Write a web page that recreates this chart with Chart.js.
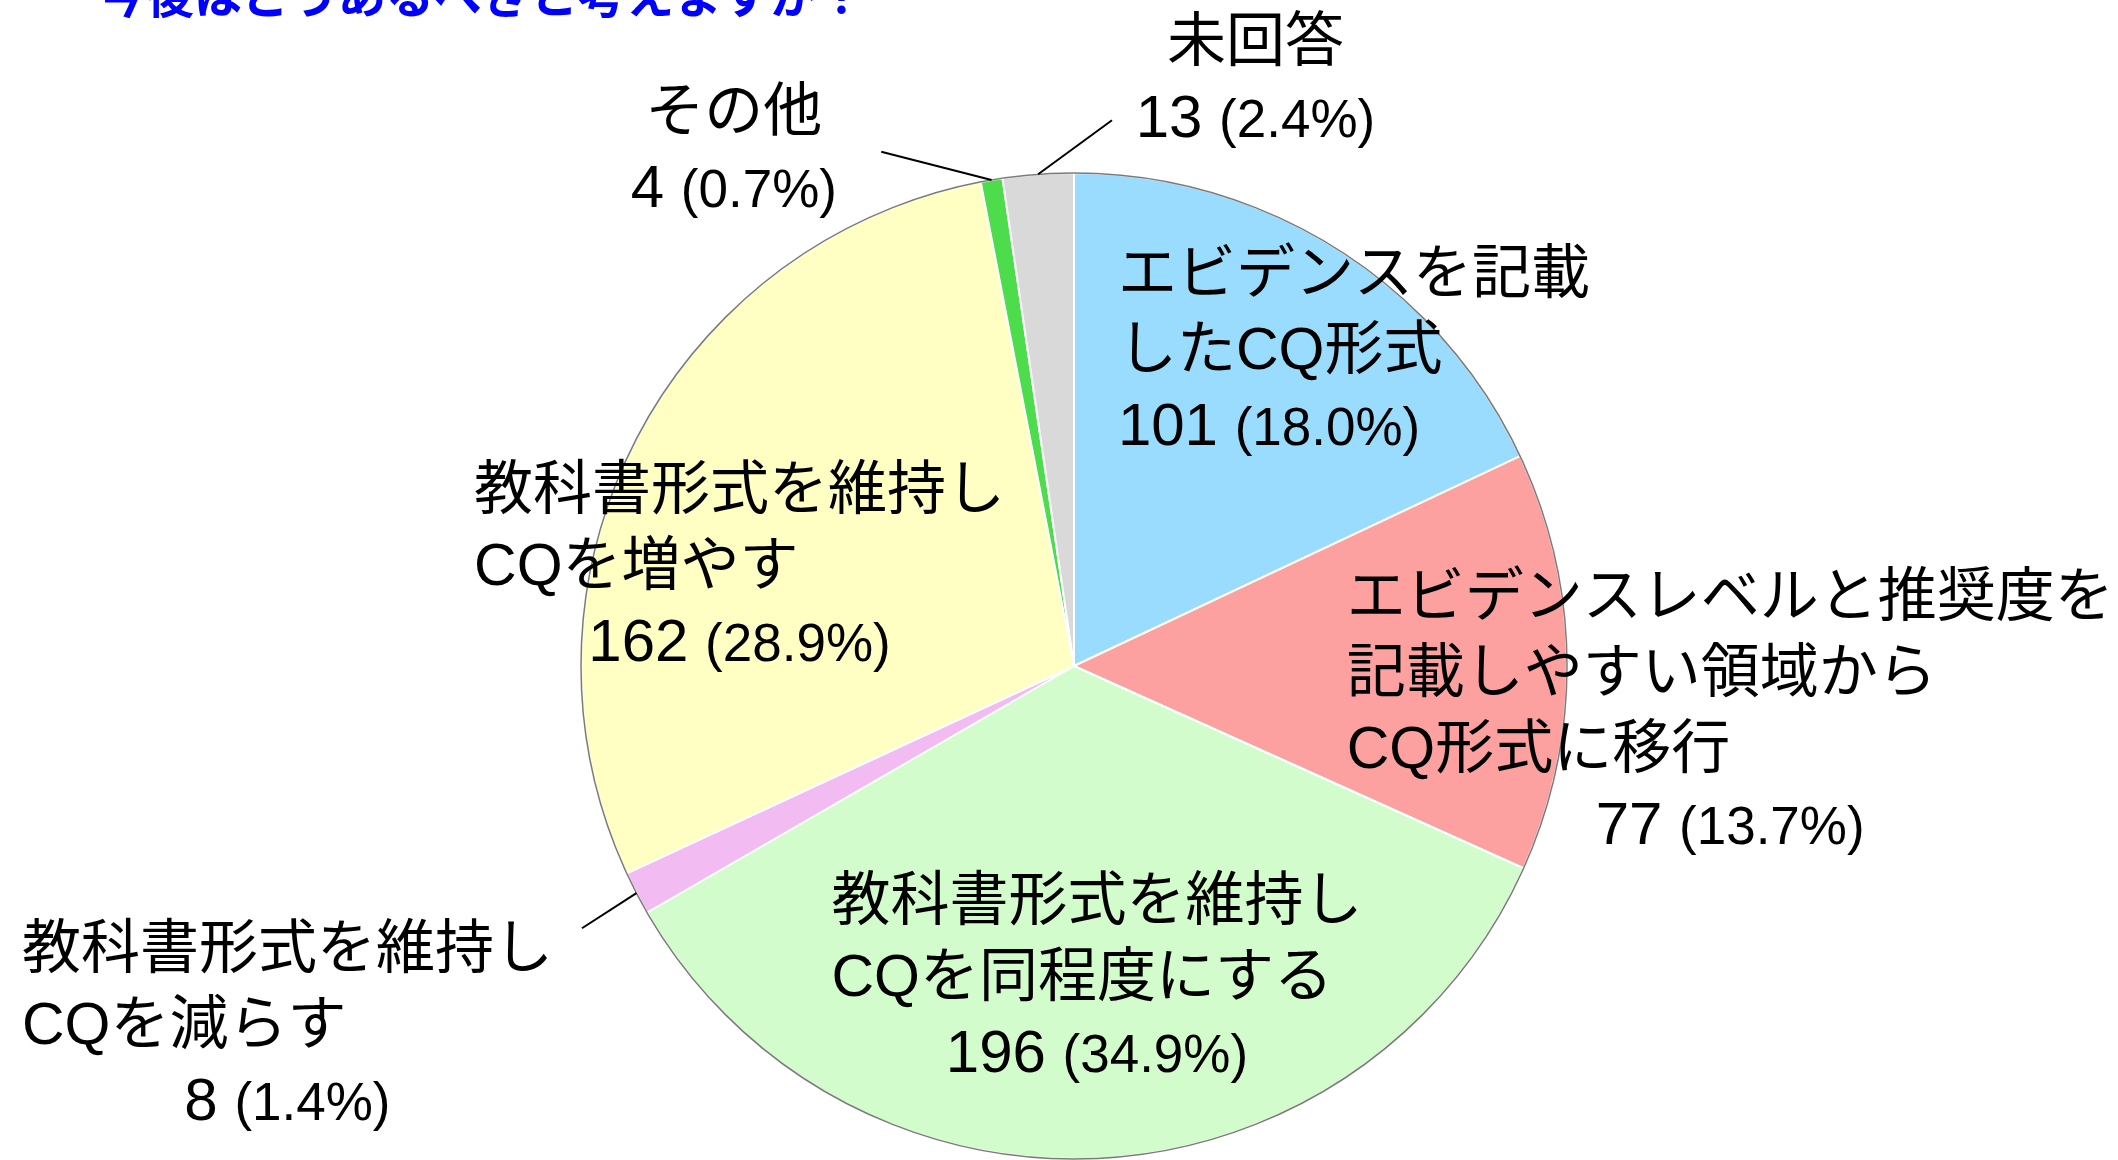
<!DOCTYPE html>
<html>
<head>
    <meta charset="UTF-8">
    <title>CQ形式 アンケート</title>
    <script src="https://cdn.jsdelivr.net/npm/chart.js"></script>
    <style>
        body { margin: 0; background: #fff; }
    </style>
</head>
<body>
    <canvas id="myChart" width="2118" height="1160"></canvas>

    <script>
        // chart data
        const questionText = '今後はどうあるべきと考えますか？';
        const categories = [
            'エビデンスを記載したCQ形式',
            'エビデンスレベルと推奨度を記載しやすい領域からCQ形式に移行',
            '教科書形式を維持しCQを同程度にする',
            '教科書形式を維持しCQを減らす',
            '教科書形式を維持しCQを増やす',
            'その他',
            '未回答'
        ];
        const labelLines = [
            ['エビデンスを記載', 'したCQ形式'],
            ['エビデンスレベルと推奨度を', '記載しやすい領域から', 'CQ形式に移行'],
            ['教科書形式を維持し', 'CQを同程度にする'],
            ['教科書形式を維持し', 'CQを減らす'],
            ['教科書形式を維持し', 'CQを増やす'],
            ['その他'],
            ['未回答']
        ];
        const counts = [101, 77, 196, 8, 162, 4, 13];
        const percentLabels = ['18.0%', '13.7%', '34.9%', '1.4%', '28.9%', '0.7%', '2.4%'];
        const sliceColors = ['#99dcfd', '#fda0a0', '#d3fccc', '#f2bcf2', '#ffffc4', '#4cdc4c', '#d9d9d9'];

        // label placement in units of the pie radius, relative to the centre
        // align: left = all lines left, mixed = name left / number centred, center = all centred
        const labelPlace = [
            { fx: 0.089, fy: -0.802, align: 'left' },
            { fx: 0.553, fy: -0.146, align: 'mixed' },
            { fx: -0.492, fy: 0.470, align: 'mixed' },
            { fx: -2.134, fy: 0.567, align: 'mixed' },
            { fx: -1.217, fy: -0.364, align: 'mixed' },
            { fx: -0.690, fy: -1.130, align: 'center' },
            { fx: 0.368, fy: -1.271, align: 'center' }
        ];
        // leader lines: slice index -> outer end (radius units)
        const leaders = [
            { index: 3, fx: -0.998, fy: 0.532 },
            { index: 5, fx: -0.391, fy: -1.043 },
            { index: 6, fx: 0.077, fy: -1.107 }
        ];

        const nameFont = '59px "Liberation Sans", "Noto Sans CJK JP", sans-serif';
        const countFont = '60px "Liberation Sans", "Noto Sans CJK JP", sans-serif';
        const pctFont = '53px "Liberation Sans", "Noto Sans CJK JP", sans-serif';
        const lineGap = 76;

        const questionPlugin = {
            id: 'questionText',
            afterDraw: (chart) => {
                const { ctx } = chart;
                ctx.save();
                ctx.font = 'bold 48px "Noto Sans CJK JP", sans-serif';
                ctx.fillStyle = '#0000ff';
                ctx.textAlign = 'left';
                ctx.textBaseline = 'alphabetic';
                ctx.fillText(questionText, 98, 13);
                ctx.restore();
            }
        };

        const sliceLabelPlugin = {
            id: 'sliceLabels',
            afterDatasetsDraw: (chart) => {
                const { ctx } = chart;
                const meta = chart.getDatasetMeta(0);
                const first = meta.data[0];
                const cx = first.x, cy = first.y, r = first.outerRadius;

                ctx.save();
                // thin grey rim
                ctx.beginPath();
                ctx.arc(cx, cy, r, 0, Math.PI * 2);
                ctx.strokeStyle = 'rgba(100,100,100,0.85)';
                ctx.lineWidth = 1.5;
                ctx.stroke();

                // leader lines
                ctx.strokeStyle = '#000';
                ctx.lineWidth = 2;
                leaders.forEach(l => {
                    const arc = meta.data[l.index];
                    const mid = (arc.startAngle + arc.endAngle) / 2;
                    ctx.beginPath();
                    ctx.moveTo(cx + Math.cos(mid) * r, cy + Math.sin(mid) * r);
                    ctx.lineTo(cx + l.fx * r, cy + l.fy * r);
                    ctx.stroke();
                });

                // labels
                ctx.fillStyle = '#000';
                ctx.textBaseline = 'alphabetic';
                labelLines.forEach((lines, i) => {
                    const p = labelPlace[i];
                    const ax = cx + p.fx * r;
                    const ay = cy + p.fy * r;

                    ctx.font = countFont;
                    const cText = String(counts[i]) + ' ';
                    const cW = ctx.measureText(cText).width;
                    ctx.font = pctFont;
                    const pText = '(' + percentLabels[i] + ')';
                    const pW = ctx.measureText(pText).width;
                    const numW = cW + pW;

                    ctx.font = nameFont;
                    const widths = lines.map(t => ctx.measureText(t).width);
                    const blockW = Math.max(numW, ...widths);

                    lines.forEach((t, k) => {
                        let x;
                        if (p.align === 'center') x = ax - widths[k] / 2;
                        else x = ax;
                        ctx.textAlign = 'left';
                        ctx.fillText(t, x, ay + k * lineGap + 22);
                    });

                    let nx;
                    if (p.align === 'left') nx = ax;
                    else if (p.align === 'center') nx = ax - numW / 2;
                    else nx = ax + blockW / 2 - numW / 2;
                    const ny = ay + lines.length * lineGap + 22;
                    ctx.textAlign = 'left';
                    ctx.font = countFont;
                    ctx.fillText(cText, nx, ny);
                    ctx.font = pctFont;
                    ctx.fillText(pText, nx + cW, ny);
                });
                ctx.restore();
            }
        };

        const ctx = document.getElementById('myChart').getContext('2d');
        new Chart(ctx, {
            type: 'pie',
            data: {
                labels: categories,
                datasets: [{
                    data: counts,
                    backgroundColor: sliceColors,
                    borderColor: '#ffffff',
                    borderWidth: 2
                }]
            },
            options: {
                responsive: false,
                animation: false,
                layout: { padding: { top: 172, bottom: 0, left: 30, right: 0 } },
                plugins: {
                    legend: { display: false },
                    tooltip: { enabled: false },
                    title: { display: false }
                }
            },
            plugins: [sliceLabelPlugin, questionPlugin]
        });
    </script>
</body>
</html>
